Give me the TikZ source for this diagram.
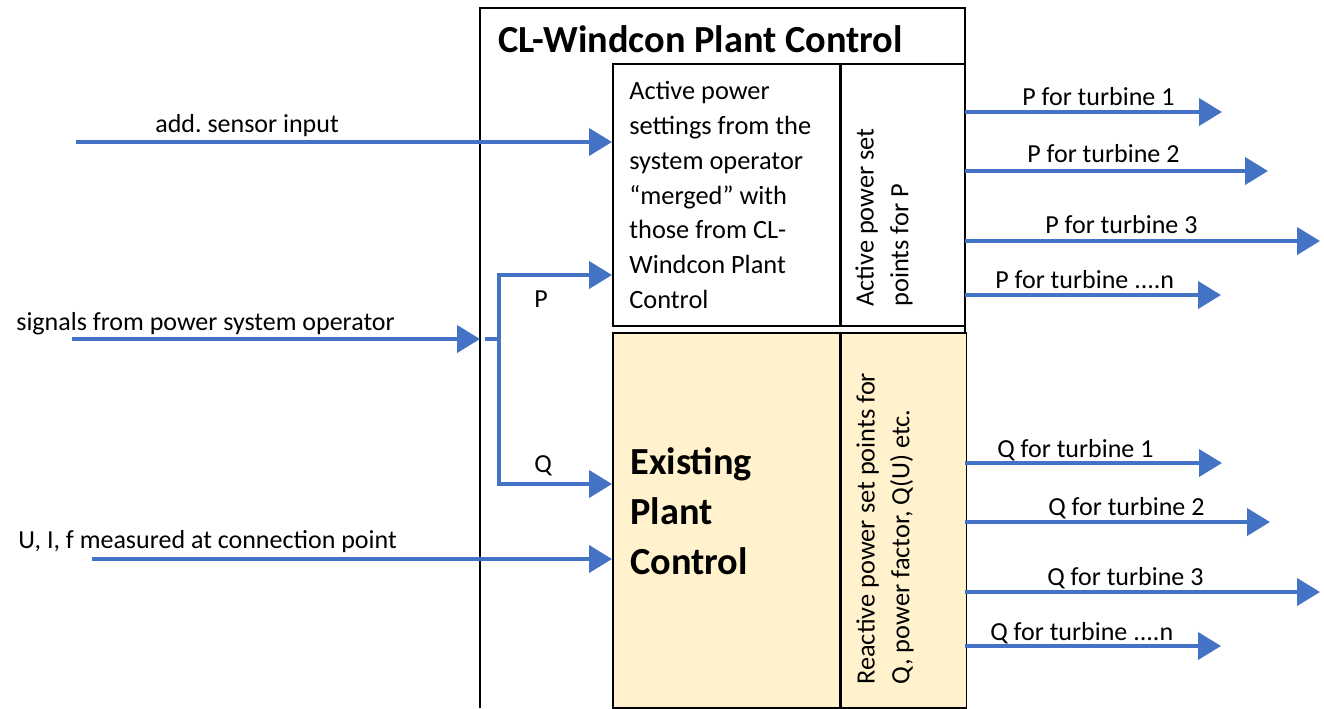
\documentclass[tikz,border=0pt]{standalone}
\usepackage{fontspec}
\setmainfont{Carlito}
\usetikzlibrary{arrows.meta}
\usetikzlibrary{positioning}
\frenchspacing
\definecolor{flowblue}{HTML}{4472C4}
\definecolor{plantyellow}{HTML}{FFF2CC}
\tikzset{flow/.style = {draw=flowblue, line width=2.3pt,
                        -{Triangle[length=4.6mm, width=5.4mm]}}}
\tikzset{box/.style = {draw, line width=0.9pt, anchor=north west, inner sep=0}}
\tikzset{lbl/.style = {font=\fontsize{14.8}{17}\selectfont, inner sep=0, anchor=base west}}
\tikzset{boxtext/.style = {font=\fontsize{15}{19.9}\selectfont, align=left, inner sep=0}}
\tikzset{heading/.style = {font=\fontsize{21.8}{28.4}\selectfont\bfseries, align=left, inner sep=0}}

\begin{document}
\begin{tikzpicture}[x=0.02cm, y=-0.02cm]
    \useasboundingbox (0,0) rectangle (1324,708);
    % outer frame
    \coordinate (frameNW) at (480,8);
    \coordinate (frameNE) at (965,8);
    \draw[line width=0.9pt] (480,708) -- (frameNW) -- (frameNE) -- (965,708);
    \node[heading, anchor=base west] (title) at (498,52) {CL-Windcon Plant Control};

    % boxes
    \node[box, minimum width=4.54cm, minimum height=5.24cm] (active) at (612,63) {};
    \node[box, minimum width=2.46cm, minimum height=5.24cm] (activeset) at (active.north east) {};
    \node[box, fill=plantyellow, minimum width=4.54cm, minimum height=7.5cm] (existing) at (612,332) {};
    \node[box, fill=plantyellow, minimum width=2.5cm, minimum height=7.5cm] (reactiveset) at (existing.north east) {};

    \node[boxtext, anchor=west] (activetext) at (629,195)
      {Active power\\settings from the\\system operator\\``merged'' with\\those from CL-\\Windcon Plant\\Control};
    \node[heading, anchor=west] (existingtext) at (630,511) {Existing\\Plant\\Control};
    \node[boxtext, rotate=90, anchor=west] (activesettext) at (884,307)
      {Active power set\\points for P};
    \node[boxtext, rotate=90, anchor=west] (reactivesettext) at (885,685)
      {Reactive power set points for\\Q, power factor, Q(U) etc.};

    % inputs
    \coordinate (sensor) at (76,142);
    \coordinate (operator) at (72,339);
    \coordinate (measured) at (92,559);
    \coordinate (split) at (499,339);
    \coordinate (pbranch) at (499,275);
    \coordinate (qbranch) at (499,484);
    \draw[flow] (sensor) -- (sensor -| active.west);
    \draw[flow] (operator) -- (operator -| frameNW);
    \draw[flow, -] ([xshift=3pt]operator -| frameNW) -- (split);
    \draw[flow] (split) -- (pbranch) -- (pbranch -| active.west);
    \draw[flow] (split) -- (qbranch) -- (qbranch -| existing.west);
    \draw[flow] (measured) -- (measured -| existing.west);

    \node[lbl] (sensorlbl) at (155,132) {add. sensor input};
    \node[lbl] (operatorlbl) at (16,330) {signals from power system operator};
    \node[lbl] (measuredlbl) at (18,548) {U, I, f measured at connection point};
    \node[lbl] (plbl) at (534,307) {P};
    \node[lbl] (qlbl) at (534,472) {Q};

    % outputs to the turbines
    \foreach \i/\y/\xe/\lx/\ly/\txt in {p1/112/1222/1022/105/{P for turbine 1},
        p2/171/1268/1027/162/{P for turbine 2}, p3/241/1320/1045/233/{P for turbine 3},
        pn/295/1221/995/288/{P for turbine ....n}, q1/463/1222/997/457/{Q for turbine 1},
        q2/522/1270/1048/515/{Q for turbine 2}, q3/592/1320/1047/585/{Q for turbine 3},
        qn/646/1221/990/640/{Q for turbine ....n}} {
      \coordinate (end\i) at (\xe,\y);
      \draw[flow] (frameNE |- end\i) -- (end\i);
      \node[lbl] (lbl\i) at (\lx,\ly) {\txt};
    }
\end{tikzpicture}
\end{document}
